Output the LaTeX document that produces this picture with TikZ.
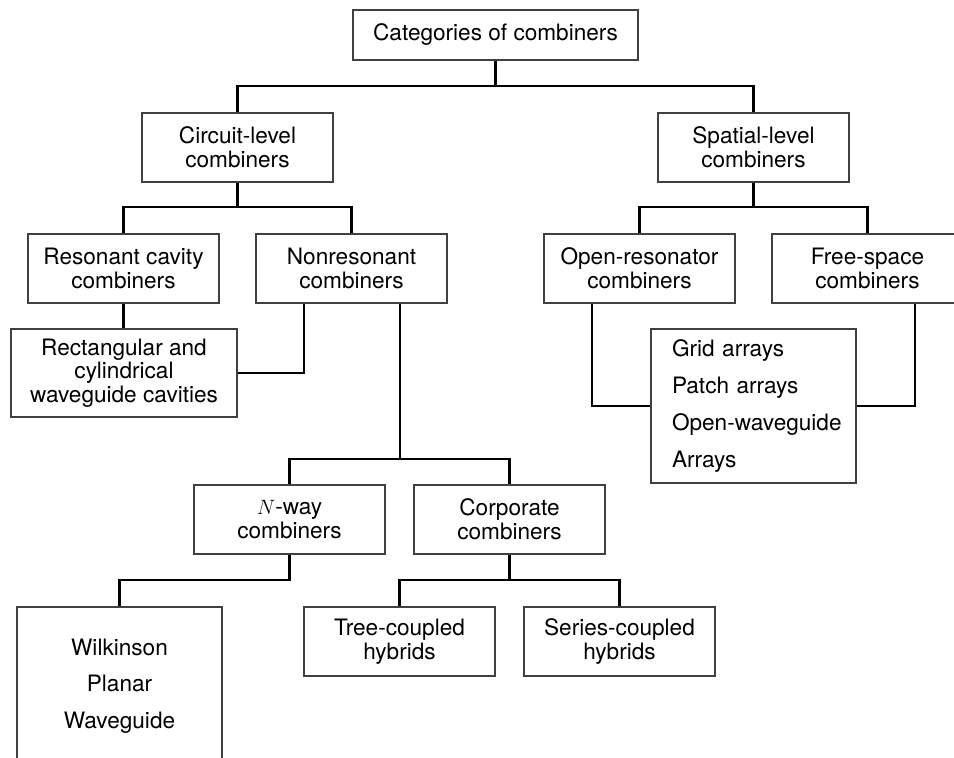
\documentclass[tikz,border=0pt]{standalone}
\usepackage{fontspec}
\setmainfont{TeX Gyre Heros}
\begin{document}
\begin{tikzpicture}[x=1pt,y=-1pt,
  box/.style={draw=black!75, line width=1.1pt, rectangle, inner sep=0pt,
    align=center, minimum width=191pt, minimum height=69pt,
    font=\fontsize{22.6}{23.6}\selectfont},
  conn/.style={draw=black, line width=2.4pt}]
\useasboundingbox (0,0) rectangle (954,758);
\clip (0,0) rectangle (954,758);

% boxes
\node[box, minimum width=285pt, minimum height=50pt] (top) at (495.5,35) {Categories of combiners};
\node[box] (circ) at (237.5,147.5) {Circuit-level\\combiners};
\node[box] (spat) at (753.5,147.5) {Spatial-level\\combiners};
\node[box] (res) at (123.5,268.5) {Resonant cavity\\combiners};
\node[box] (nonres) at (351.5,268.5) {Nonresonant\\combiners};
\node[box] (openres) at (639.5,268.5) {Open-resonator\\combiners};
\node[box] (free) at (867.5,268.5) {Free-space\\combiners};
\node[box, minimum width=226pt, minimum height=88pt] (rect) at (124,373)
  {Rectangular and\\cylindrical\\waveguide cavities};
\node[box, minimum width=205pt, minimum height=154pt, align=left,
  inner xsep=21pt, text width=163pt,
  font=\fontsize{22.6}{37}\selectfont] (grid) at (753.5,406)
  {Grid arrays\\Patch arrays\\\mbox{Open-waveguide}\\Arrays};
\node[box] (nway) at (289.5,519.5) {$N$-way\\combiners};
\node[box] (corp) at (509.5,519.5) {Corporate\\combiners};
\node[box, minimum width=205pt, minimum height=158pt,
  font=\fontsize{22.6}{36.5}\selectfont] (wilk) at (119.5,686)
  {Wilkinson\\Planar\\Waveguide};
\node[box] (tree) at (399.5,641.5) {Tree-coupled\\hybrids};
\node[box] (series) at (619.5,641.5) {Series-coupled\\hybrids};

% branch points
\coordinate (b0) at (495.5,86);
\coordinate (b1) at (237.5,207);
\coordinate (b2) at (753.5,207);
\coordinate (b3) at (400,459);
\coordinate (b4) at (289.5,580);
\coordinate (b5) at (509.5,580);

% connectors
\draw[conn] (top.south) -- (b0);
\draw[conn] (circ.north) |- (b0) -| (spat.north);
\draw[conn] (circ.south) -- (b1);
\draw[conn] (res.north) |- (b1) -| (nonres.north);
\draw[conn] (spat.south) -- (b2);
\draw[conn] (openres.north) |- (b2) -| (free.north);
\draw[conn] (res.south) -- (res.south |- rect.north);
\draw[conn] (rect.east) -| ([xshift=-47.5pt]nonres.south);
\draw[conn] ([xshift=48.5pt]nonres.south) -- (b3);
\draw[conn] (nway.north) |- (b3) -| (corp.north);
\draw[conn] (nway.south) -- (b4) -| (wilk.north);
\draw[conn] (corp.south) -- (b5);
\draw[conn] (tree.north) |- (b5) -| (series.north);
\draw[conn] (grid.west) -| ([xshift=-47.5pt]openres.south);
\draw[conn] (grid.east) -| ([xshift=47.5pt]free.south);
\end{tikzpicture}
\end{document}
